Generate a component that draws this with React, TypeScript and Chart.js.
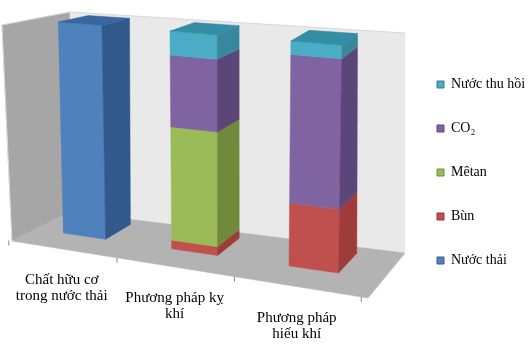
import React, { useEffect, useRef } from "react";
import { Chart, registerables } from "chart.js";

Chart.register(...registerables);

// ---- data ----
const categories: string[][] = [
  ["Chất hữu cơ", "trong nước thải"],
  ["Phương pháp kỵ", "khí"],
  ["Phương pháp", "hiếu khí"],
];
const seriesNames = ["Nước thải", "Bùn", "Mêtan", "CO₂", "Nước thu hồi"];
const nuocThai = [100, 0, 0];
const bun = [0, 4, 28];
const metan = [0, 52, 0];
const co2 = [0, 33, 66];
const nuocThuHoi = [0, 11, 6];
const seriesValues = [nuocThai, bun, metan, co2, nuocThuHoi];
const valueMax = 100;

// ---- styles ----
const frontColors = ["#4F81BD", "#C0504D", "#9BBB59", "#8064A2", "#4BACC6"];
const sideColors = ["#31598B", "#9E3C39", "#6E8A3A", "#5C4578", "#37889C"];
const topColors = ["#3A66A0", "#A94442", "#7F9E45", "#6A528B", "#338EA5"];
const borderColors = ["#385D8A", "#8C3836", "#71893F", "#5C4776", "#357D91"];
const FONT = "'Liberation Serif', 'Times New Roman', serif";

// projected plot box corners (front/back, bottom/top, left/right)
const BOX: Record<string, number[]> = {
  fbl: [12, 241], fbr: [368, 298], bbl: [70, 212], bbr: [405, 253],
  ftl: [2, 25], ftr: [376, 60], btl: [70, 12], btr: [405, 33],
};
const DEPTH_FRONT = 0.41;
const DEPTH_BACK = 0.87;

const lerp2 = (a: number[], b: number[], t: number) => [a[0] + (b[0] - a[0]) * t, a[1] + (b[1] - a[1]) * t];
const P = (u: number, v: number, w: number) => {
  const fb = lerp2(BOX.fbl, BOX.fbr, u);
  const bb = lerp2(BOX.bbl, BOX.bbr, u);
  const ft = lerp2(BOX.ftl, BOX.ftr, u);
  const bt = lerp2(BOX.btl, BOX.btr, u);
  const b = lerp2(fb, bb, w);
  const t = lerp2(ft, bt, w);
  return lerp2(b, t, v);
};
// perspective widening toward the right
const warp = (u: number) => -0.009 + 0.873 * u + 0.117 * u * u;

const poly = (ctx: CanvasRenderingContext2D, pts: number[][], fill: string) => {
  ctx.beginPath();
  ctx.moveTo(pts[0][0], pts[0][1]);
  for (let i = 1; i < pts.length; i++) ctx.lineTo(pts[i][0], pts[i][1]);
  ctx.closePath();
  ctx.fillStyle = fill;
  ctx.fill();
  ctx.strokeStyle = fill;
  ctx.lineWidth = 0.5;
  ctx.stroke();
};

const threeDPlugin = {
  id: "threeD",
  beforeDatasetsDraw(chart: any) {
    const ctx: CanvasRenderingContext2D = chart.ctx;
    const ca = chart.chartArea;
    const xs = chart.scales.x;
    const ys = chart.scales.y;
    const y0 = ys.getPixelForValue(0);
    const y1 = ys.getPixelForValue(valueMax);
    const toV = (py: number) => (y0 - py) / (y0 - y1);
    const toU = (px: number) => warp((px - ca.left) / ca.width);

    ctx.save();
    // walls and floor
    poly(ctx, [P(0, 0, 0), P(0, 0, 1), P(0, 1, 1), P(0, 1, 0)], "#A6A6A6");
    poly(ctx, [P(0, 0, 1), P(1, 0, 1), P(1, 1, 1), P(0, 1, 1)], "#E9E9E9");
    poly(ctx, [P(0, 0, 0), P(1, 0, 0), P(1, 0, 1), P(0, 0, 1)], "#B3B3B3");
    // light edges
    ctx.strokeStyle = "#D9D9D9";
    ctx.lineWidth = 1;
    ctx.beginPath();
    const a = P(0, 0, 0), b = P(0, 1, 0), c = P(0, 1, 1), d = P(1, 1, 1);
    ctx.moveTo(a[0], a[1]); ctx.lineTo(b[0], b[1]); ctx.lineTo(c[0], c[1]); ctx.lineTo(d[0], d[1]);
    ctx.stroke();

    // category ticks on floor front edge
    const n = chart.data.labels.length;
    ctx.strokeStyle = "#8C8C8C";
    ctx.lineWidth = 1;
    for (let i = 0; i <= n; i++) {
      const p = P(warp(i / n), 0, 0);
      ctx.beginPath();
      ctx.moveTo(p[0], p[1]);
      ctx.lineTo(p[0], p[1] + 5);
      ctx.stroke();
    }

    // bars
    const datasets = chart.data.datasets;
    for (let i = 0; i < n; i++) {
      let topDs = -1;
      datasets.forEach((ds: any, k: number) => { if (ds.data[i] > 0) topDs = k; });
      datasets.forEach((ds: any, k: number) => {
        if (!(ds.data[i] > 0)) return;
        const el = chart.getDatasetMeta(k).data[i];
        const { x, y, base, width } = el.getProps(["x", "y", "base", "width"], true);
        const uL = toU(x - width / 2), uR = toU(x + width / 2);
        const vB = toV(base), vT = toV(y);
        poly(ctx, [P(uL, vB, DEPTH_FRONT), P(uR, vB, DEPTH_FRONT), P(uR, vT, DEPTH_FRONT), P(uL, vT, DEPTH_FRONT)], frontColors[k]);
        poly(ctx, [P(uR, vB, DEPTH_FRONT), P(uR, vB, DEPTH_BACK), P(uR, vT, DEPTH_BACK), P(uR, vT, DEPTH_FRONT)], sideColors[k]);
        if (k === topDs) {
          poly(ctx, [P(uL, vT, DEPTH_FRONT), P(uR, vT, DEPTH_FRONT), P(uR, vT, DEPTH_BACK), P(uL, vT, DEPTH_BACK)], topColors[k]);
        }
      });
    }

    // category labels
    ctx.fillStyle = "#000000";
    ctx.font = `15px ${FONT}`;
    ctx.textAlign = "center";
    ctx.textBaseline = "middle";
    chart.data.labels.forEach((lab: string[], i: number) => {
      const p = P(toU(xs.getPixelForValue(i)), 0, 0);
      lab.forEach((line, j) => ctx.fillText(line, p[0], p[1] + 31 + j * 16));
    });
    ctx.restore();
    return false;
  },
};

export default function App() {
  const ref = useRef<HTMLCanvasElement>(null);
  useEffect(() => {
    if (!ref.current) return;
    const chart = new Chart(ref.current, {
      type: "bar",
      data: {
        labels: categories,
        datasets: seriesValues.map((vals, k) => ({
          label: seriesNames[k],
          data: vals,
          backgroundColor: frontColors[k],
          borderColor: borderColors[k],
          borderWidth: 1,
          barPercentage: 0.4,
          categoryPercentage: 1,
        })),
      },
      options: {
        responsive: false,
        animation: false,
        devicePixelRatio: 1,
        layout: { padding: { top: 0, bottom: 10, left: 0, right: 0 } },
        scales: {
          x: { stacked: true, display: false },
          y: { stacked: true, display: false, min: 0, max: valueMax },
        },
        plugins: {
          tooltip: { enabled: false },
          legend: {
            position: "right",
            reverse: true,
            maxWidth: 123,
            labels: {
              boxWidth: 7,
              boxHeight: 7,
              padding: 30,
              color: "#000000",
              font: { family: FONT, size: 14 },
            },
          },
        },
      },
      plugins: [threeDPlugin],
    } as any);
    return () => chart.destroy();
  }, []);
  return (
    <div style={{ position: "absolute", left: 0, top: 0, width: 530, height: 355, background: "#fff" }}>
      <canvas ref={ref} width={530} height={355} style={{ display: "block" }} />
    </div>
  );
}
